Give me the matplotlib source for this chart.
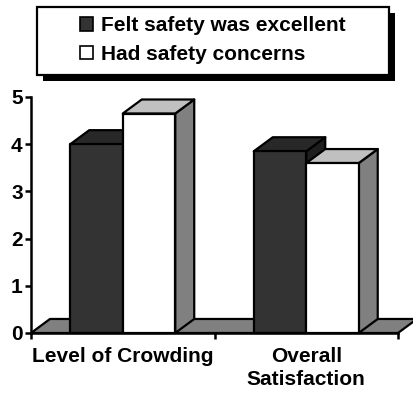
import matplotlib.pyplot as plt
from matplotlib.patches import Patch, Polygon, Rectangle

plt.rcParams["font.family"] = ["Liberation Sans", "DejaVu Sans"]
plt.rcParams["font.weight"] = "bold"
plt.rcParams["font.size"] = 15

categories = ["Level of Crowding", "Overall\nSatisfaction"]
series = ["Felt safety was excellent", "Had safety concerns"]
excellent = [4.0, 3.85]
concerns = [4.65, 3.6]
yticks = [0, 1, 2, 3, 4, 5]

# face colours per series: front, top, side
faces = [
    ("#333333", "#282828", "#1e1e1e"),
    ("#ffffff", "#c0c0c0", "#808080"),
]
floor_color = "#808080"

bar_w = 0.286
dx, dy = 0.1035, 0.297  # depth offset of the 3d look, in data units
lw = 1.6

fig = plt.figure(figsize=(4.13, 3.93), dpi=100)
ax = fig.add_axes([0.0751, 0.1527, 0.8886, 0.6005])
ax.set_xlim(0, 2)
ax.set_ylim(0, 5)


def box(ax, x0, h, cols):
    x1 = x0 + bar_w
    side = [(x1, 0), (x1 + dx, dy), (x1 + dx, h + dy), (x1, h)]
    top = [(x0, h), (x0 + dx, h + dy), (x1 + dx, h + dy), (x1, h)]
    front = [(x0, 0), (x0, h), (x1, h), (x1, 0)]
    for pts, c in ((side, cols[2]), (top, cols[1]), (front, cols[0])):
        ax.add_patch(Polygon(pts, closed=True, facecolor=c, edgecolor="black",
                             linewidth=lw, clip_on=False, joinstyle="round"))


# floor
ax.add_patch(Polygon([(0, 0), (dx, dy), (2 + dx, dy), (2, 0)], closed=True,
                     facecolor=floor_color, edgecolor="black", linewidth=lw,
                     clip_on=False, zorder=1))

for i in range(len(categories)):
    for j, vals in enumerate((excellent, concerns)):
        x0 = i + 0.5 - bar_w + j * bar_w
        box(ax, x0, vals[i], faces[j])

for s in ("top", "right"):
    ax.spines[s].set_visible(False)
for s in ("left", "bottom"):
    ax.spines[s].set_linewidth(1.8)
    ax.spines[s].set_zorder(5)

ax.set_yticks(yticks)
ax.tick_params(axis="y", length=4, width=1.8, pad=2)
ax.set_xticks([0, 1, 2])
ax.set_xticklabels([])
ax.tick_params(axis="x", which="major", length=4, width=1.8)
ax.set_xticks([0.5, 1.5], minor=True)
ax.set_xticklabels(categories, minor=True, linespacing=1.3)
ax.tick_params(axis="x", which="minor", length=0, pad=10)

# legend frame with a solid drop shadow
fig.add_artist(Rectangle((43 / 413, 1 - 81 / 393), 352 / 413, 68 / 393,
                         transform=fig.transFigure, facecolor="black",
                         edgecolor="none", zorder=2))
fig.add_artist(Rectangle((37 / 413, 1 - 75 / 393), 352 / 413, 68 / 393,
                         transform=fig.transFigure, facecolor="white",
                         edgecolor="black", linewidth=1.6, zorder=3))
handles = [Patch(facecolor=faces[k][0], edgecolor="black", linewidth=1.2)
           for k in range(len(series))]
leg = fig.legend(handles=handles, labels=series, loc="center",
                 bbox_to_anchor=(213 / 413, 1 - 40 / 393), frameon=False,
                 handlelength=0.62, handleheight=0.62, handletextpad=0.4,
                 labelspacing=0.45, borderpad=0)
leg.set_zorder(4)

fig.savefig("out.png", dpi=100)
